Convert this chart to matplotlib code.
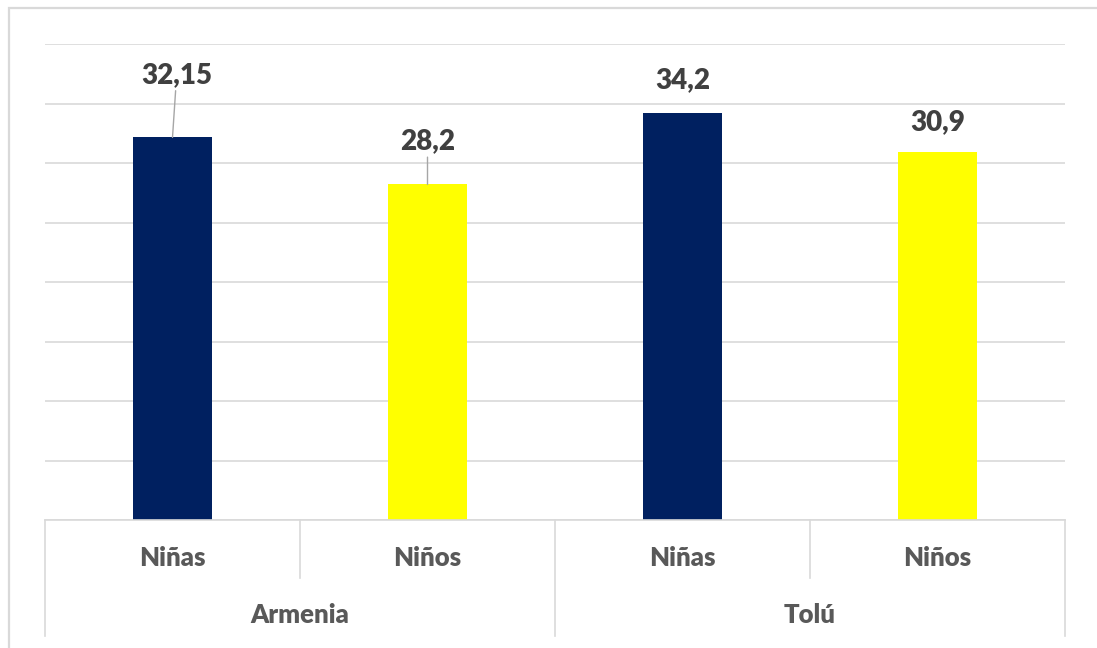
import numpy as np
import matplotlib.pyplot as plt
from matplotlib.transforms import blended_transform_factory
from matplotlib.patches import Rectangle

# data
grupos = ['Armenia', 'Tolú']
categorias = ['Niñas', 'Niños', 'Niñas', 'Niños']
valores = [32.15, 28.2, 34.2, 30.9]
etiquetas = ['32,15', '28,2', '34,2', '30,9']
colores = ['#002060', '#FFFF00', '#002060', '#FFFF00']

# label offsets (points) and whether a leader line is drawn
offsets = [(3, 45), (0, 31), (0, 24), (0, 22)]
leader = [True, True, False, False]

plt.rcParams['font.family'] = ['Lato', 'DejaVu Sans']

fig = plt.figure(figsize=(10.97, 6.48), dpi=100)
W, H = 1097, 648

# light frame round the chart
fig.patches.append(Rectangle((9 / W, -0.1), 1.2, 1 - 8 / H + 0.1, transform=fig.transFigure,
                             fill=False, edgecolor='#d9d9d9', lw=1.6))

ax = fig.add_axes([45 / W, 128 / H, 1020 / W, 476 / H])
x = np.arange(len(valores))
ax.bar(x, valores, width=0.31, color=colores, zorder=2)

ax.set_xlim(-0.5, len(valores) - 0.5)
ax.set_ylim(0, 40)
ax.set_yticks(np.arange(0, 41, 5))
ax.yaxis.grid(True, color='#d9d9d9', lw=1.2, zorder=0)
ax.set_axisbelow(True)
ax.tick_params(left=False, bottom=False, labelleft=False, labelbottom=False)
for s in ['top', 'right', 'left']:
    ax.spines[s].set_visible(False)
ax.spines['bottom'].set_color('#d9d9d9')
ax.spines['bottom'].set_linewidth(1.2)

for xi, v, lab, off, ld in zip(x, valores, etiquetas, offsets, leader):
    ap = dict(arrowstyle='-', color='#a6a6a6', lw=1, shrinkA=0, shrinkB=0) if ld else None
    ax.annotate(lab, xy=(xi, v), xytext=off, textcoords='offset points',
                ha='center', va='center', fontsize=20, fontweight='heavy',
                color='#404040', arrowprops=ap)

# two-level category axis
tr = blended_transform_factory(ax.transData, ax.transAxes)
y_cat = -58 / 476
y_grp = -116 / 476
for b in np.arange(-0.5, len(valores), 1):
    gi = int(round(b + 0.5))
    low = y_grp if gi % 2 == 0 else y_cat
    ax.plot([b, b], [0, low], transform=tr, color='#d9d9d9', lw=1.2, clip_on=False)

for xi, c in zip(x, categorias):
    ax.text(xi, -38 / 476, c, transform=tr, ha='center', va='center',
            fontsize=18.5, fontweight='heavy', color='#595959')

for gi, g in enumerate(grupos):
    ax.text(2 * gi + 0.5, -95 / 476, g, transform=tr, ha='center', va='center',
            fontsize=18.5, fontweight='heavy', color='#595959')

fig.savefig('out.png', dpi=100)
